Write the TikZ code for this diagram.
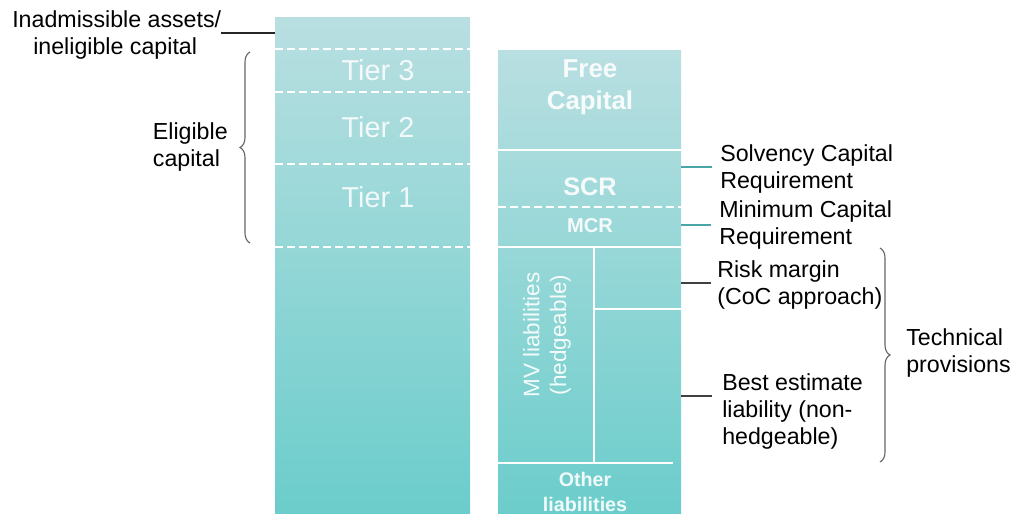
\documentclass[tikz,border=0pt]{standalone}
\usepackage{fontspec}
\setmainfont{Liberation Sans}
\usepackage{tikz}
\usetikzlibrary{positioning, decorations.pathreplacing}

\definecolor{colTop}{HTML}{B9DFE1}
\definecolor{colBot}{HTML}{6BCDCB}
\definecolor{linkTeal}{HTML}{4AA6A6}
\definecolor{linkGray}{HTML}{404040}

\begin{document}
\begin{tikzpicture}[x=0.025cm,y=-0.025cm,
        column/.style={top color=colTop, bottom color=colBot, draw=none},
        split/.style={draw=white, line width=1.2pt},
        tierline/.style={draw=white, line width=0.9pt, dash pattern=on 0.2cm off 0.1cm},
        label/.style={font=\fontsize{16.5}{19.2}\selectfont, text=black, align=left, inner sep=0pt},
        tier/.style={font=\fontsize{20.5}{24}\selectfont, text=white, text opacity=0.85, inner sep=0pt},
        block/.style={font=\bfseries\fontsize{18.4}{21.5}\selectfont, text=white, text opacity=0.9, align=center, inner sep=0pt},
        link/.style={line width=0.8pt},
        curly/.style={decorate, decoration={brace, amplitude=0.25cm}, draw=linkGray!80, line width=0.8pt}]
    % \draw[help lines] (0,0) grid[step=1cm] (1015,514);
    \useasboundingbox (0,0) rectangle (1015,514);

    % assets column
    \shade[column] (275,17) rectangle (470,513);
    \foreach \y in {49,92,164,247}
        \draw[tierline] (275,\y) -- (470,\y);
    \node[tier] (tier3) at (378,70)  {Tier 3};
    \node[tier] (tier2) at (378,127) {Tier 2};
    \node[tier] (tier1) at (378,197) {Tier 1};

    % liabilities column
    \shade[column] (498,50) rectangle (681,513);
    \draw[split] (498,150) -- (681,150);
    \draw[tierline] (498,207) -- (681,207);
    \draw[split] (498,247) -- (681,247);
    \draw[split] (594,247) -- (594,463);
    \draw[split] (594,309) -- (681,309);
    \draw[split] (498,463) -- (673,463);

    \node[block] (free)  at (590,87)  {Free\\[1pt]Capital};
    \node[block, font=\bfseries\fontsize{18}{20}\selectfont] (scr) at (590,187) {SCR};
    \node[block, font=\bfseries\fontsize{14.3}{16}\selectfont] (mcr) at (590,226) {MCR};
    \node[block, font=\bfseries\fontsize{14}{17.7}\selectfont] (other) at (585,492) {Other\\liabilities};
    \node[block, font=\fontsize{16}{19}\selectfont, rotate=90] (mv) at (547,335) {MV liabilities\\(hedgeable)};

    % labels
    \coordinate (inadEnd) at (275,33);
    \node[label, anchor=west] (inad) at (12,35) {Inadmissible assets/\\\hspace*{0.525cm}ineligible capital};
    \draw[link, draw=black!85] (inad.east |- inadEnd) -- (inadEnd);

    \node[label, anchor=east] (elig) at (228,147) {Eligible\\capital};
    \draw[curly] (250,243) -- (250,52);

    \coordinate (scrEdge) at (681,167);
    \coordinate (mcrEdge) at (681,225);
    \coordinate (rmEdge)  at (681,283);
    \coordinate (beEdge)  at (681,396);
    \node[label, anchor=west] (scrlbl) at (720,169) {Solvency Capital\\Requirement};
    \node[label, anchor=west] (mcrlbl) at (719,225) {Minimum Capital\\Requirement};
    \node[label, anchor=west] (rmlbl)  at (717,285) {Risk margin\\(CoC approach)};
    \node[label, anchor=west] (belbl)  at (722,411) {Best estimate\\liability (non-\\hedgeable)};
    \draw[link, draw=linkTeal] (scrEdge) -- (712,167);
    \draw[link, draw=linkTeal] (mcrEdge) -- (711,225);
    \draw[link, draw=linkGray] (rmEdge) -- (711,283);
    \draw[link, draw=linkGray] (beEdge) -- (712,396);

    \draw[curly] (880,248) -- (880,462);
    \node[label, anchor=west] (tech) at (906,353) {Technical\\provisions};
\end{tikzpicture}
\end{document}
